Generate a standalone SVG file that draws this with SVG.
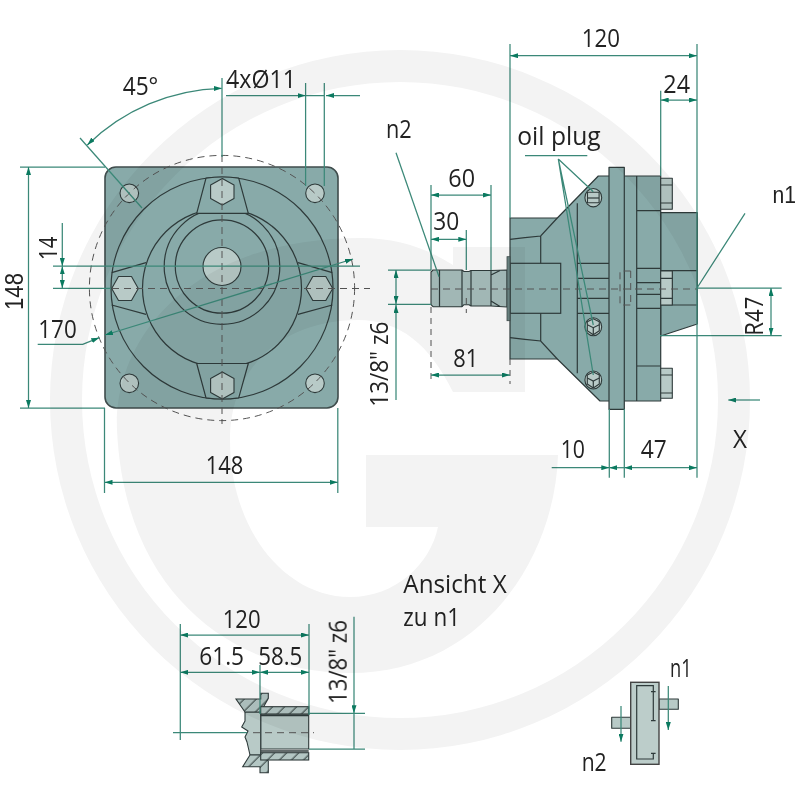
<svg xmlns="http://www.w3.org/2000/svg" width="800" height="800" viewBox="0 0 800 800">
<style>
text{font-family:"Open Sans","Noto Sans","DejaVu Sans",sans-serif;font-size:25px;fill:#222}
.d{fill:none;stroke:#3b8878;stroke-width:1.25}
.a{marker-start:url(#ah);marker-end:url(#ah)}
.e{marker-end:url(#ah)}
.s{marker-start:url(#ah)}
.m{fill:#88aaa9;stroke:#2e3a3a;stroke-width:1.2;stroke-linejoin:round}
.l{fill:#b8cac7;stroke:#2e3a3a;stroke-width:1.1;stroke-linejoin:round}
.p{fill:#a9c0be;stroke:#2e3a3a;stroke-width:1.1;stroke-linejoin:round}
.o{fill:none;stroke:#2e3a3a;stroke-width:1.2}
.c{fill:none;stroke:#555;stroke-width:1;stroke-dasharray:7 5}
.h{fill:url(#hatch);stroke:#2e3a3a;stroke-width:1.1}
</style>
<defs>
<marker id="ah" viewBox="0 0 8 5" refX="8" refY="2.5" markerWidth="8" markerHeight="5" markerUnits="userSpaceOnUse" orient="auto-start-reverse"><path d="M0,0L8,2.5L0,5Z" fill="#0b7a60"/></marker>
<pattern id="hatch" width="8.5" height="8.5" patternUnits="userSpaceOnUse" patternTransform="rotate(45)"><rect width="8.5" height="8.5" fill="#b4c7c4"/><line x1="4" y1="0" x2="4" y2="8.5" stroke="#2e3a3a" stroke-width="1"/></pattern>
<g id="plug"><ellipse cx="0" cy="0" rx="8.4" ry="9" class="l"/><polygon points="-6,-5 0,-8 6,-5 6,4 0,8 -6,4" class="l"/><polyline points="-6,-2 0,1 6,-2" class="o"/><line x1="0" y1="1" x2="0" y2="8" class="o"/></g>
</defs>

<g id="watermark" fill="#f3f3f3">
<path fill-rule="evenodd" d="M50,400A350,350 0 1 1 750,400A350,350 0 1 1 50,400ZM82,400A318,318 0 1 0 718,400A318,318 0 1 0 82,400Z"/>
<path d="M117,430C113,340 190,238 361,238C395,238 425,247 453,265L453,247L525,247L525,392L453,392C430,345 400,320 358,320C285,320 230,365 230,440C230,530 285,597 350,597C395,597 430,565 438,527L366,527L366,455L558,455C555,560 480,673 350,673C240,673 125,600 117,430Z"/>
</g>

<g id="drawing" style="mix-blend-mode:multiply">
<g id="front-view">
<rect x="105" y="167" width="233" height="241" rx="11" ry="11" fill="#88aaa9" stroke="#3f4c4c" stroke-width="1.6"/>
<circle cx="222" cy="288" r="111" class="o"/>
<circle cx="222" cy="288" r="79.5" class="o"/>
<circle cx="222" cy="266.5" r="57.8" class="o"/>
<circle cx="222" cy="266.5" r="46.7" class="o"/>
<circle cx="222" cy="266.5" r="19" class="l"/>
<path class="m" d="M206,178.2A111,111 0 0 1 238.7,178.2L248.3,213.3L196.7,213.3Z"/>
<path class="m" d="M206,397.8A111,111 0 0 0 238.7,397.8L248.3,363.5L196.7,363.5Z"/>
<path class="o" d="M111.7,272.7L146,262.7M111.7,305L146,314.3M332.3,272.7L298,262.7M332.3,305L298,314.3"/>
<polygon class="l" points="222.3,178.5 234,185 234,198.5 222.3,205 210.6,198.5 210.6,185"/>
<polygon class="l" points="222.3,372 234,378.5 234,392.5 222.3,399 210.6,392.5 210.6,378.5"/>
<polygon class="l" points="111.7,288.5 118.5,276.5 131.5,276.5 138.3,288.5 131.5,300.5 118.5,300.5"/>
<polygon class="l" points="306,288.5 312.8,276.5 325.8,276.5 332.7,288.5 325.8,300.5 312.8,300.5"/>
<circle cx="129.3" cy="193.3" r="9.3" class="l"/>
<circle cx="315" cy="193.3" r="9.3" class="l"/>
<circle cx="129.3" cy="383.3" r="9.3" class="l"/>
<circle cx="315" cy="383.3" r="9.3" class="l"/>
<circle cx="222" cy="288" r="132.6" class="c"/>
<line x1="222" y1="155" x2="222" y2="424" class="c"/>
<line x1="112" y1="288.5" x2="370" y2="288.5" class="c"/>
</g>

<g id="side-view">
<polygon class="m" points="660.7,212.7 697.3,212.7 697.3,324 660.7,336"/>
<polygon class="m" points="510,218 557.3,218 598.3,176 660.7,176 660.7,401 600,401 557.3,359 510,359"/>
<rect class="m" x="609" y="167.3" width="15.3" height="242"/>
<path class="o" d="M510,239.3L540.7,236L557.3,218M510,337.7L540.7,341L557.3,359M540.7,236V263.3M540.7,313.3V341M577.3,203.3V373.3M577.3,263.3H609M577.3,278.3H609M577.3,298.3H609M577.3,313.3H609M636.7,176V401M636.7,210.7H660.7M636.7,268.3H660.7M636.7,282.7H660.7M636.7,294.3H660.7M636.7,308.3H660.7M636.7,366H660.7M660.7,270.7H697.3M660.7,305H697.3M672.3,270.7V305"/>
<rect class="o" x="510" y="263.3" width="50.7" height="50"/>
<rect class="l" x="660.7" y="178.3" width="11.6" height="31"/>
<path class="o" d="M660.7,185H672.3M660.7,203H672.3"/>
<rect class="l" x="660.7" y="368.3" width="11.6" height="30"/>
<path class="o" d="M660.7,375H672.3M660.7,393H672.3"/>
<rect class="l" x="660.7" y="271" width="11.6" height="34"/>
<path class="o" d="M660.7,278.3H672.3M660.7,298.3H672.3"/>
<g id="oil-plug-1"><ellipse cx="593.3" cy="197.7" rx="8.4" ry="9.2" class="l"/><rect x="587.5" y="192.3" width="11.6" height="10.5" class="l"/><line x1="587.5" y1="198" x2="599" y2="198" class="o"/></g>
<use href="#plug" x="593.3" y="326.7"/>
<use href="#plug" x="593.3" y="380"/>
<path class="p" d="M431,272L433,270H462L464,271.5H469L471,270.5H491L507,270V307L491,306H471L469,304.7H464L462,306.7H433L431,304.7Z"/>
<path class="o" d="M439.5,270V306.7M462,270V306.7M471,270.5V306M491,270.5V306M491,275L500,270.5M491,301L500,306.5"/>
<rect x="507" y="256.7" width="3" height="64" fill="#6c8584" stroke="#3f4c4c" stroke-width="0.8"/>
<line x1="431" y1="289" x2="697" y2="289" class="c"/>
<path class="c" d="M630.7,271H620V305H630.7M630.7,271V306"/>
</g>

<g id="section-view">
<rect x="260.7" y="714" width="48" height="35" class="l"/>
<path class="l" d="M245,712L260.7,712V755H250L247,742L245,737L248,731L241.7,727L245,721Z"/>
<polygon class="h" points="236,699 260.7,699 260.7,693.3 268.3,693.3 268.3,698.3 260.7,712 245,712"/>
<rect x="260.7" y="706.7" width="48" height="7.3" class="h"/>
<polygon class="h" points="250,755 260.7,755 268.3,761 268.3,772.7 260,772.7 260,766.7 242.7,766.7"/>
<rect x="260.7" y="752.7" width="48" height="7.3" class="h"/>
<path d="M260.7,715.5H308.7M260.7,751H308.7" fill="none" stroke="#2e3a3a" stroke-width="1.6"/>
<line x1="253" y1="732.7" x2="314" y2="732.7" class="c"/>
</g>

<g id="schematic">
<rect x="611.7" y="717.3" width="19" height="11" class="l"/>
<rect x="659" y="699" width="19.3" height="10.3" class="l"/>
<rect x="630.7" y="682.3" width="28.3" height="82" fill="#bccdca" stroke="#444" stroke-width="1.4"/>
<path class="o" d="M653.3,692.7V685.7H636.7V759H653.3V753.3M651,753.3H655.6M653.3,691.7V720.7M651,691.7H655.6M651,720.7H655.6"/>
<line x1="668.3" y1="686" x2="668.3" y2="730" class="d e"/>
<line x1="621" y1="706" x2="621" y2="741.7" class="d e"/>
</g>

<g id="connectors">
<path class="d" d="M20,167H105M20,408H105M53,266H360M53,288.3H111"/>
<line class="d a" x1="28.5" y1="167" x2="28.5" y2="408"/>
<line class="d e" x1="62.3" y1="223" x2="62.3" y2="266"/>
<line class="d a" x1="62.3" y1="266.3" x2="62.3" y2="288"/>
<polyline class="d e" points="37.7,344.3 82.7,344.3 99.3,337.7"/>
<line class="d a" x1="105" y1="335" x2="353" y2="259"/>
<line class="d" x1="80" y1="138" x2="142" y2="208"/>
<path class="d a" d="M221.7,88.3A199,199 0 0 0 87.3,145"/>
<line class="d" x1="222" y1="78" x2="222" y2="157"/>
<path class="d" d="M305.6,83V186M324.3,83V186M305.6,95.5H324.3"/>
<line class="d e" x1="226" y1="95.5" x2="305.6" y2="95.5"/>
<line class="d e" x1="360" y1="95.5" x2="326" y2="95.5"/>
<path class="d" d="M104.5,408V493M337.8,408V493"/>
<line class="d a" x1="104.5" y1="482.3" x2="337.8" y2="482.3"/>
<path class="d" d="M388,270H431M388,304.3H431"/>
<line class="d a" x1="396" y1="270" x2="396" y2="304"/>
<line class="d s" x1="396" y1="305" x2="396" y2="400"/>
<line class="d" x1="396" y1="152.7" x2="439" y2="276.7"/>
<path class="d" d="M431,185V270M491,185V270M466.3,230V270"/>
<line class="d a" x1="431" y1="195" x2="491" y2="195"/>
<line class="d a" x1="431" y1="239.3" x2="466.3" y2="239.3"/>
<path class="c" d="M431,307V384M510,359V384M466.3,298V313" style="stroke-dasharray:6 5"/>
<line class="d a" x1="431" y1="375" x2="510" y2="375"/>
<path class="d" d="M510,44V218M697,44V477.7M660.7,90.7V176M609.3,409V477.7M624.3,409V477.7"/>
<line class="d a" x1="510" y1="55.7" x2="697" y2="55.7"/>
<line class="d a" x1="660.7" y1="100" x2="697" y2="100"/>
<line class="d e" x1="551.7" y1="467.7" x2="609.3" y2="467.7"/>
<line class="d s" x1="609.3" y1="467.7" x2="624.3" y2="467.7"/>
<line class="d a" x1="624.3" y1="467.7" x2="697" y2="467.7"/>
<line class="d" x1="525" y1="155.7" x2="587.3" y2="155.7"/>
<path class="d" d="M558.3,159L593.3,191.7M558.3,159L593.3,325M558.3,159L593.3,375"/>
<path class="d" d="M697,288H781.7M660,335.7H781.7M697,288L745,213.3"/>
<line class="d a" x1="771" y1="288" x2="771" y2="335.7"/>
<line class="d e" x1="760" y1="400" x2="728.3" y2="400"/>
<path class="d" d="M180.3,624V740M309,624V715M260,665V714M173,732.7H247M309,713.3H365M309,749H365"/>
<line class="d a" x1="180.3" y1="635" x2="309" y2="635"/>
<line class="d a" x1="180.3" y1="672.3" x2="260" y2="672.3"/>
<line class="d a" x1="260" y1="672.3" x2="309" y2="672.3"/>
<line class="d e" x1="354" y1="616.7" x2="354" y2="713.3"/>
<line class="d" x1="354" y1="713.3" x2="354" y2="749"/>
</g>

<g id="labels">
<text x="122.7" y="95" textLength="35.6" lengthAdjust="spacingAndGlyphs">45°</text>
<text x="226" y="88.3" textLength="70" lengthAdjust="spacingAndGlyphs">4xØ11</text>
<text transform="translate(22.7,310) rotate(-90)" textLength="37" lengthAdjust="spacingAndGlyphs" style="font-family:'Liberation Sans',sans-serif">148</text>
<text transform="translate(56.7,260) rotate(-90)" textLength="23.5" lengthAdjust="spacingAndGlyphs">14</text>
<text x="38.3" y="337.7" textLength="38.4" lengthAdjust="spacingAndGlyphs">170</text>
<text x="205.7" y="474.3" textLength="37.6" lengthAdjust="spacingAndGlyphs">148</text>
<text x="386" y="138.3" textLength="25.7" lengthAdjust="spacingAndGlyphs">n2</text>
<text x="448.3" y="186.7" textLength="26.7" lengthAdjust="spacingAndGlyphs">60</text>
<text x="433.3" y="230" textLength="26" lengthAdjust="spacingAndGlyphs">30</text>
<text x="453.3" y="367.3" textLength="25" lengthAdjust="spacingAndGlyphs">81</text>
<text transform="translate(388.3,406.7) rotate(-90)" textLength="85" lengthAdjust="spacingAndGlyphs">13/8" z6</text>
<text x="581.7" y="46.7" textLength="38.3" lengthAdjust="spacingAndGlyphs">120</text>
<text x="663.3" y="93.3" textLength="26.7" lengthAdjust="spacingAndGlyphs">24</text>
<text x="517.3" y="145" textLength="83.4" lengthAdjust="spacingAndGlyphs">oil plug</text>
<text x="772.5" y="203" textLength="23.5" lengthAdjust="spacingAndGlyphs" style="font-family:'Liberation Sans',sans-serif;font-size:23.5px">n1</text>
<text transform="translate(762.7,335.7) rotate(-90)" textLength="39" lengthAdjust="spacingAndGlyphs">R47</text>
<text x="733" y="448" textLength="14" lengthAdjust="spacingAndGlyphs">X</text>
<text x="560.7" y="458.3" textLength="24.3" lengthAdjust="spacingAndGlyphs">10</text>
<text x="640.7" y="458.3" textLength="26" lengthAdjust="spacingAndGlyphs">47</text>
<text x="403.3" y="593.3" textLength="103.4" lengthAdjust="spacingAndGlyphs">Ansicht X</text>
<text x="403.3" y="625.7" textLength="56.7" lengthAdjust="spacingAndGlyphs">zu n1</text>
<text x="222.7" y="628.3" textLength="38" lengthAdjust="spacingAndGlyphs">120</text>
<text x="199.3" y="665" textLength="44.7" lengthAdjust="spacingAndGlyphs">61.5</text>
<text x="258.3" y="665" textLength="44" lengthAdjust="spacingAndGlyphs">58.5</text>
<text transform="translate(346.7,704) rotate(-90)" textLength="84" lengthAdjust="spacingAndGlyphs">13/8" z6</text>
<text x="670" y="676.7" textLength="21.7" lengthAdjust="spacingAndGlyphs">n1</text>
<text x="581.7" y="770.7" textLength="25" lengthAdjust="spacingAndGlyphs">n2</text>
</g>
</g>
</svg>
